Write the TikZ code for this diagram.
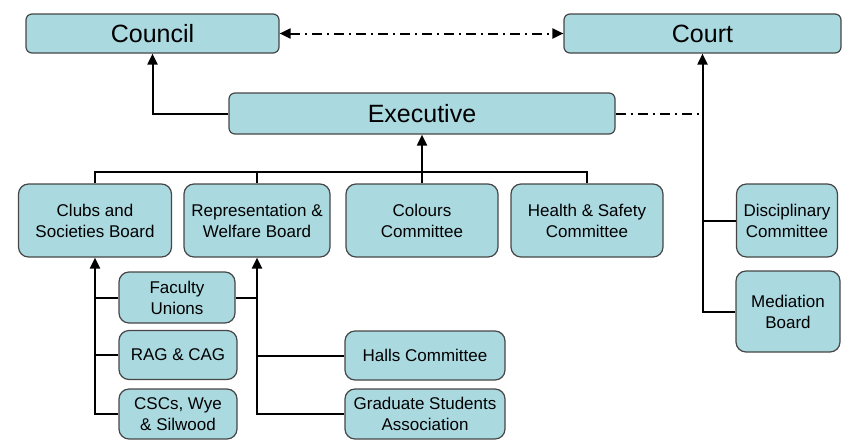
\documentclass[tikz,border=0pt]{standalone}
\usepackage{fontspec}
\setmainfont{Liberation Sans}
\usepackage{tikz}
\usetikzlibrary{arrows.meta}
\definecolor{boxblue}{RGB}{170,217,224}
\definecolor{boxline}{RGB}{70,70,70}
\tikzset{
every node/.style=
    { % Sets the properties for each box
        draw=boxline,
        line width=1.2pt,
        fill=boxblue,
        rounded corners=7pt,
        align=center,
        inner sep=0pt
    },
    bigbox/.style={font=\fontsize{25}{28}\selectfont, rounded corners=6pt}, % Top row and executive
    smallbox/.style={font=\fontsize{17}{21}\selectfont, rounded corners=10pt}, % All other boxes
    link/.style={draw, line width=2pt}, % Plain connector
    arrow/.style={link, -{Triangle[length=11pt,width=10pt]}}, % Connector with filled head
    dashdot/.style={link, dash pattern=on 10pt off 5pt on 2pt off 5pt} % Dash-dot link
}
\begin{document}
\begin{tikzpicture}[x=1pt,y=-1pt]
\useasboundingbox (0,0) rectangle (851,440);

\node [bigbox,minimum width=253pt,minimum height=39pt](council) at (152.5,33.5) {Council};
\node [bigbox,minimum width=277pt,minimum height=39pt](court)   at (702.5,33.5) {Court};
\node [bigbox,minimum width=386pt,minimum height=41pt](exec)    at (422,113.5)  {Executive};

\node [smallbox,minimum width=153pt,minimum height=73pt](clubs)   at (95,220.5)  {Clubs and\\Societies Board};
\node [smallbox,minimum width=146pt,minimum height=73pt](rep)     at (257,220.5) {Representation \&\\Welfare Board};
\node [smallbox,minimum width=152pt,minimum height=73pt](colours) at (422,220.5) {Colours\\Committee};
\node [smallbox,minimum width=152pt,minimum height=73pt](health)  at (587,220.5) {Health \& Safety\\Committee};

\node [smallbox,minimum width=116pt,minimum height=51pt](faculty) at (177,297.5) {Faculty\\Unions};
\node [smallbox,minimum width=118pt,minimum height=49pt](rag)     at (178,355)   {RAG \& CAG};
\node [smallbox,minimum width=118pt,minimum height=50pt](cscs)    at (178,414)   {CSCs, Wye\\\& Silwood};
\node [smallbox,minimum width=160pt,minimum height=49pt](halls)   at (425,355.5) {Halls Committee};
\node [smallbox,minimum width=160pt,minimum height=50pt](grad)    at (425,414)   {Graduate Students\\Association};

\node [smallbox,minimum width=101pt,minimum height=73pt](disc) at (787,220.5) {Disciplinary\\Committee};
\node [smallbox,minimum width=104pt,minimum height=81pt](med)  at (788,311.5) {Mediation\\Board};

\coordinate (bus) at (422,172);

\draw [dashdot,{Triangle[length=11pt,width=10pt]}-{Triangle[length=11pt,width=10pt]}]
    (council) -- (court);
\draw [dashdot] (exec.east) -- (exec.east -| court.south);
\draw [arrow] (exec.west) -| (council.south);

\draw [arrow] (colours.north) -- (exec.south);
\draw [link] (clubs.north) |- (health.north |- bus) -- (health.north);
\draw [link] (rep.north) -- (rep.north |- bus);

\draw [arrow] (cscs.west) -| (clubs.south);
\draw [link] (rag.west) -- (rag.west -| clubs.south);
\draw [link] (faculty.west) -- (faculty.west -| clubs.south);

\draw [arrow] (grad.west) -| (rep.south);
\draw [link] (halls.west) -- (halls.west -| rep.south);
\draw [link] (faculty.east) -- (faculty.east -| rep.south);

\draw [arrow] (med.west) -| (court.south);
\draw [link] (disc.west) -- (disc.west -| court.south);
\end{tikzpicture}
\end{document}
